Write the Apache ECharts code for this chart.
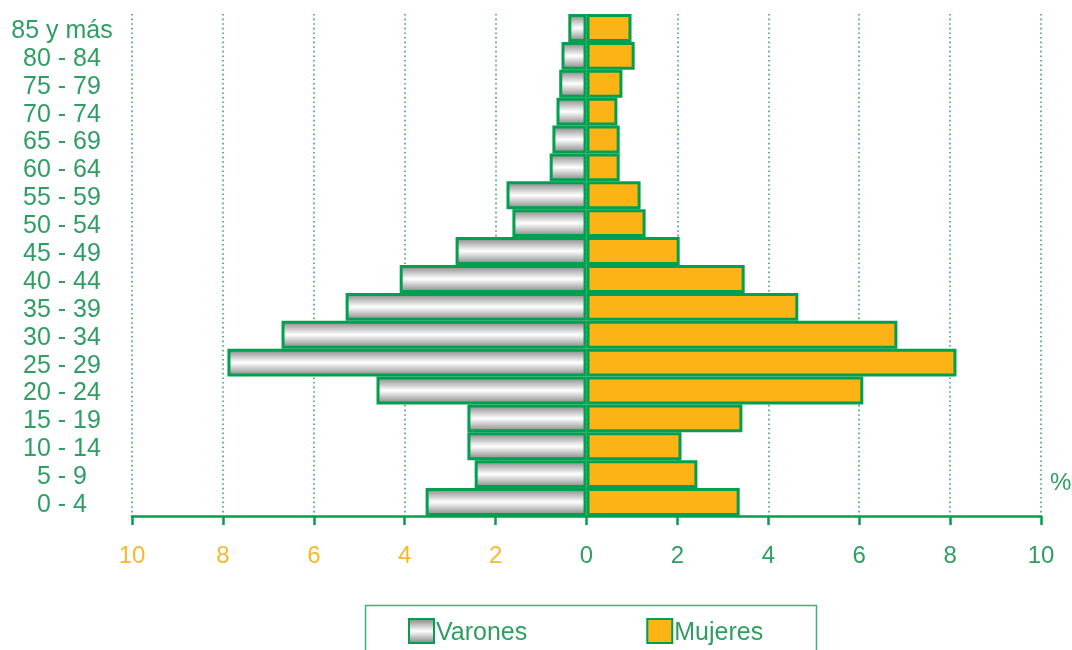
<!DOCTYPE html>
<html>
<head>
<meta charset="utf-8">
<script src="https://cdn.jsdelivr.net/npm/echarts@6/dist/echarts.min.js"></script>
<style>
html,body{margin:0;padding:0;background:#fff;}
#c{width:1072px;height:650px;}
</style>
</head>
<body>
<div id="c"></div>
<script>
var ageGroups = ['0 - 4','5 - 9','10 - 14','15 - 19','20 - 24','25 - 29','30 - 34','35 - 39','40 - 44','45 - 49','50 - 54','55 - 59','60 - 64','65 - 69','70 - 74','75 - 79','80 - 84','85 y más'];
var varones = [3.54, 2.46, 2.62, 2.62, 4.62, 7.90, 6.71, 5.30, 4.11, 2.88, 1.63, 1.76, 0.81, 0.75, 0.66, 0.60, 0.55, 0.40];
var mujeres = [3.37, 2.44, 2.09, 3.43, 6.09, 8.14, 6.84, 4.66, 3.48, 2.05, 1.30, 1.19, 0.73, 0.73, 0.68, 0.79, 1.06, 0.99];
var xTicks = [-10, -8, -6, -4, -2, 0, 2, 4, 6, 8, 10];

var GREEN = '#00a050';
var TEXTGREEN = '#2f9e62';
var YELLOW = '#f6b82c';
var ORANGE = '#fbb316';
var FONT = 'Liberation Sans, Arial, sans-serif';

var chart = echarts.init(document.getElementById('c'));
chart.setOption({
  animation: false,
  grid: {left: 132, right: 31, top: 14, bottom: 134, containLabel: false},
  xAxis: {
    type: 'value', min: xTicks[0], max: xTicks[xTicks.length - 1], interval: 2,
    axisLine: {show: true, onZero: false, lineStyle: {color: GREEN, width: 2.5}},
    axisTick: {show: true, length: 9, lineStyle: {color: GREEN, width: 2.5}},
    axisLabel: {
      margin: 28, fontSize: 24, fontFamily: FONT,
      formatter: function (v) { return String(Math.abs(v)); },
      color: function (v) { return Number(v) < 0 ? YELLOW : TEXTGREEN; }
    },
    splitLine: {show: true, lineStyle: {color: '#3fa26b', width: 1.6, type: [1.6, 3]}}
  },
  yAxis: {
    type: 'category', data: ageGroups,
    axisLine: {show: false, onZero: false},
    axisTick: {show: false},
    axisLabel: {
      interval: 0, hideOverlap: false,
      margin: 70, align: 'center', fontSize: 25, fontFamily: FONT, color: TEXTGREEN,
      formatter: function (v) { return '{a|' + v + '}'; },
      rich: {a: {fontSize: 25, fontFamily: FONT, color: TEXTGREEN, padding: [6, 0, 0, 0]}}
    }
  },
  legend: {
    left: 408, top: 618, padding: 0, itemWidth: 25, itemHeight: 24, itemGap: 119,
    icon: 'rect',
    formatter: function (n) { return '{a|' + n + '}'; },
    textStyle: {fontSize: 25, color: TEXTGREEN, fontFamily: FONT,
      rich: {a: {fontSize: 25, color: TEXTGREEN, fontFamily: FONT, padding: [5, 0, 0, -3]}}},
    data: ['Varones', 'Mujeres']
  },
  graphic: [
    {type: 'rect', shape: {x: 365.5, y: 605.5, width: 451, height: 60}, style: {fill: 'none', stroke: '#3cb371', lineWidth: 1.5}},
    {type: 'text', x: 1050, y: 471, style: {text: '%', fontSize: 24, fill: TEXTGREEN, fontFamily: FONT}}
  ],
  series: [
    {
      name: 'Varones', type: 'bar', stack: 'p', barCategoryGap: '0%',
      data: varones.map(function (v) { return -v; }),
      itemStyle: {
        borderColor: GREEN, borderWidth: 3,
        color: new echarts.graphic.LinearGradient(0, 0, 0, 1, [
          {offset: 0, color: '#7e7e7e'},
          {offset: 0.5, color: '#ffffff'},
          {offset: 1, color: '#7e7e7e'}
        ])
      }
    },
    {
      name: 'Mujeres', type: 'bar', stack: 'p', barCategoryGap: '0%',
      data: mujeres,
      itemStyle: {color: ORANGE, borderColor: GREEN, borderWidth: 3}
    }
  ]
});
</script>
</body>
</html>
